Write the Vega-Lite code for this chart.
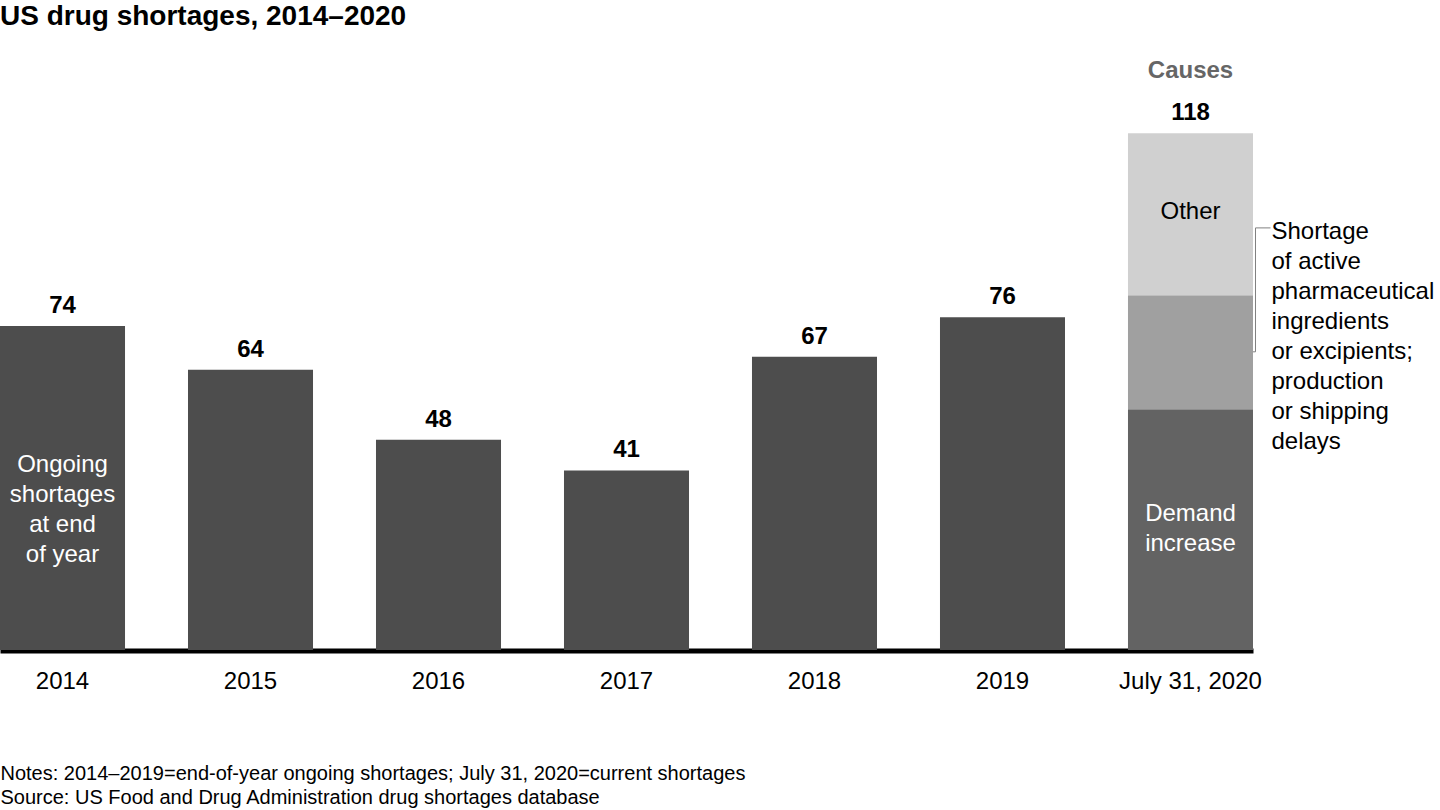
{
  "$schema": "https://vega.github.io/schema/vega-lite/v6.json",
  "autosize": {"type": "none"},
  "width": 1253,
  "height": 613,
  "padding": {"left": 0, "top": 37, "right": 187, "bottom": 160},
  "background": "white",
  "title": {
    "text": "US drug shortages, 2014–2020",
    "anchor": "start",
    "frame": "group",
    "fontSize": 28,
    "fontWeight": "bold",
    "font": "Liberation Sans",
    "color": "black",
    "offset": 6
  },
  "config": {"view": {"stroke": null}, "font": "Liberation Sans"},
  "datasets": {
    "bars": [
      {"cat": "2014", "seg": "Ongoing", "value": 74, "rank": 0},
      {"cat": "2015", "seg": "Ongoing", "value": 64, "rank": 0},
      {"cat": "2016", "seg": "Ongoing", "value": 48, "rank": 0},
      {"cat": "2017", "seg": "Ongoing", "value": 41, "rank": 0},
      {"cat": "2018", "seg": "Ongoing", "value": 67, "rank": 0},
      {"cat": "2019", "seg": "Ongoing", "value": 76, "rank": 0},
      {"cat": "July 31, 2020", "seg": "Demand increase", "value": 55, "rank": 1},
      {"cat": "July 31, 2020", "seg": "Supply", "value": 26, "rank": 2},
      {"cat": "July 31, 2020", "seg": "Other", "value": 37, "rank": 3}
    ],
    "totals": [
      {"cat": "2014", "total": 74},
      {"cat": "2015", "total": 64},
      {"cat": "2016", "total": 48},
      {"cat": "2017", "total": 41},
      {"cat": "2018", "total": 67},
      {"cat": "2019", "total": 76},
      {"cat": "July 31, 2020", "total": 118}
    ],
    "inside": [
      {"cat": "2014", "text": "Ongoing\nshortages\nat end\nof year", "y": 42.2, "tone": "light"},
      {"cat": "July 31, 2020", "text": "Demand\nincrease", "y": 31.1, "tone": "light"},
      {"cat": "July 31, 2020", "text": "Other", "y": 100, "tone": "dark"}
    ],
    "causes": [{"cat": "July 31, 2020", "text": "Causes", "y": 130.6}],
    "bracket": [{"cat": "July 31, 2020", "top": 96.4, "bottom": 68.1}],
    "note": [
      {"cat": "July 31, 2020", "text": "Shortage\nof active\npharmaceutical\ningredients\nor excipients;\nproduction\nor shipping\ndelays", "y": 96.4}
    ]
  },
  "layer": [
    {
      "data": {"name": "bars"},
      "mark": {"type": "bar"},
      "encoding": {
        "x": {
          "field": "cat",
          "type": "nominal",
          "sort": ["2014", "2015", "2016", "2017", "2018", "2019", "July 31, 2020"],
          "scale": {"paddingInner": 0.335, "paddingOuter": 0},
          "axis": {
            "title": [
              "Notes: 2014–2019=end-of-year ongoing shortages; July 31, 2020=current shortages",
              "Source: US Food and Drug Administration drug shortages database"
            ],
            "labelAngle": 0,
            "labelFontSize": 24,
            "labelColor": "black",
            "labelFont": "Liberation Sans",
            "labelPadding": 19,
            "ticks": false,
            "domainColor": "black",
            "domainWidth": 5,
            "offset": 0.5,
            "titleAnchor": "start",
            "titleAlign": "left",
            "titleFont": "Liberation Sans",
            "titleFontSize": 20,
            "titleFontWeight": "normal",
            "titleColor": "black",
            "titleLineHeight": 24,
            "titlePadding": 70,
            "titleBaseline": "top"
          }
        },
        "y": {
          "field": "value",
          "type": "quantitative",
          "stack": "zero",
          "scale": {"domain": [0, 140], "nice": false},
          "axis": null
        },
        "order": {"field": "rank", "type": "quantitative"},
        "color": {
          "field": "seg",
          "type": "nominal",
          "scale": {
            "domain": ["Ongoing", "Demand increase", "Supply", "Other"],
            "range": ["#4d4d4d", "#636363", "#a0a0a0", "#d0d0d0"]
          },
          "legend": null
        }
      }
    },
    {
      "data": {"name": "totals"},
      "mark": {"type": "text", "fontSize": 24, "fontWeight": "bold", "color": "black", "baseline": "alphabetic", "dy": -13},
      "encoding": {
        "x": {"field": "cat", "type": "nominal", "sort": ["2014", "2015", "2016", "2017", "2018", "2019", "July 31, 2020"]},
        "y": {"field": "total", "type": "quantitative", "scale": {"domain": [0, 140], "nice": false}},
        "text": {"field": "total", "type": "quantitative"}
      }
    },
    {
      "data": {"name": "causes"},
      "mark": {"type": "text", "fontSize": 24, "fontWeight": "bold", "color": "#666666", "baseline": "alphabetic"},
      "encoding": {
        "x": {"field": "cat", "type": "nominal", "sort": ["2014", "2015", "2016", "2017", "2018", "2019", "July 31, 2020"]},
        "y": {"field": "y", "type": "quantitative", "scale": {"domain": [0, 140], "nice": false}},
        "text": {"field": "text"}
      }
    },
    {
      "data": {"name": "inside"},
      "transform": [{"filter": "datum.tone === 'light'"}],
      "mark": {"type": "text", "fontSize": 24, "color": "white", "baseline": "middle", "lineBreak": "\n", "lineHeight": 30},
      "encoding": {
        "x": {"field": "cat", "type": "nominal", "sort": ["2014", "2015", "2016", "2017", "2018", "2019", "July 31, 2020"]},
        "y": {"field": "y", "type": "quantitative", "scale": {"domain": [0, 140], "nice": false}},
        "text": {"field": "text"}
      }
    },
    {
      "data": {"name": "inside"},
      "transform": [{"filter": "datum.tone === 'dark'"}],
      "mark": {"type": "text", "fontSize": 24, "color": "black", "baseline": "middle", "lineBreak": "\n", "lineHeight": 30},
      "encoding": {
        "x": {"field": "cat", "type": "nominal", "sort": ["2014", "2015", "2016", "2017", "2018", "2019", "July 31, 2020"]},
        "y": {"field": "y", "type": "quantitative", "scale": {"domain": [0, 140], "nice": false}},
        "text": {"field": "text"}
      }
    },
    {
      "data": {"name": "bracket"},
      "mark": {"type": "rule", "color": "#808080", "strokeWidth": 1, "xOffset": 65},
      "encoding": {
        "x": {"field": "cat", "type": "nominal", "sort": ["2014", "2015", "2016", "2017", "2018", "2019", "July 31, 2020"]},
        "y": {"field": "top", "type": "quantitative", "scale": {"domain": [0, 140], "nice": false}},
        "y2": {"field": "bottom"}
      }
    },
    {
      "data": {"name": "bracket"},
      "mark": {"type": "rule", "color": "#808080", "strokeWidth": 1, "xOffset": 65, "x2Offset": 80},
      "encoding": {
        "x": {"field": "cat", "type": "nominal", "sort": ["2014", "2015", "2016", "2017", "2018", "2019", "July 31, 2020"]},
        "x2": {"field": "cat"},
        "y": {"field": "top", "type": "quantitative", "scale": {"domain": [0, 140], "nice": false}}
      }
    },
    {
      "data": {"name": "bracket"},
      "mark": {"type": "rule", "color": "#808080", "strokeWidth": 1, "xOffset": 62.5, "x2Offset": 65},
      "encoding": {
        "x": {"field": "cat", "type": "nominal", "sort": ["2014", "2015", "2016", "2017", "2018", "2019", "July 31, 2020"]},
        "x2": {"field": "cat"},
        "y": {"field": "bottom", "type": "quantitative", "scale": {"domain": [0, 140], "nice": false}}
      }
    },
    {
      "data": {"name": "note"},
      "mark": {"type": "text", "fontSize": 24, "color": "black", "align": "left", "baseline": "top", "lineBreak": "\n", "lineHeight": 30, "xOffset": 81, "dy": -8},
      "encoding": {
        "x": {"field": "cat", "type": "nominal", "sort": ["2014", "2015", "2016", "2017", "2018", "2019", "July 31, 2020"]},
        "y": {"field": "y", "type": "quantitative", "scale": {"domain": [0, 140], "nice": false}},
        "text": {"field": "text"}
      }
    }
  ]
}
